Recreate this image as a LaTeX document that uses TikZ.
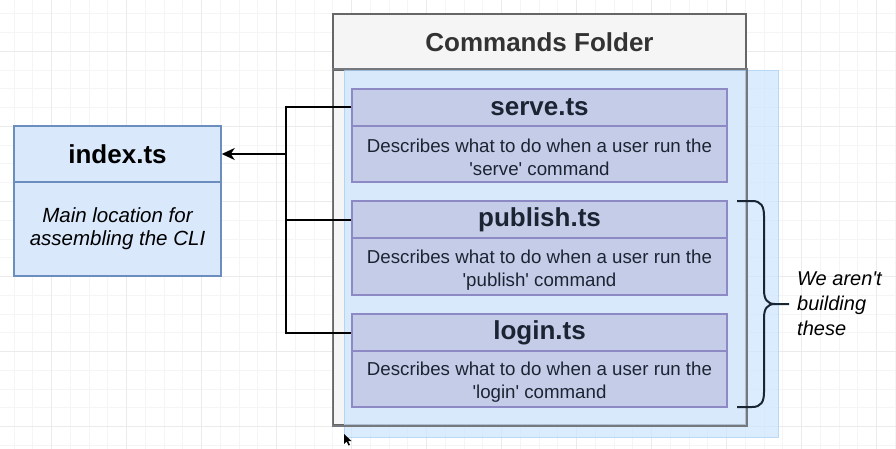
\documentclass[tikz,border=0pt]{standalone}
\usepackage{fontspec}
\setmainfont{Liberation Sans}
\usetikzlibrary{arrows.meta}
\definecolor{idxfill}{HTML}{DAE8FC}
\definecolor{idxdraw}{HTML}{6C8EBF}
\definecolor{foldfill}{HTML}{F5F5F5}
\definecolor{folddraw}{HTML}{666666}
\definecolor{foldtext}{HTML}{333333}
\definecolor{ovfill}{HTML}{CCE5FF}
\definecolor{ovdraw}{HTML}{A8D0F5}
\definecolor{cmdfill}{HTML}{C5CCE8}
\definecolor{cmddraw}{HTML}{8C89C4}
\definecolor{cmdtext}{HTML}{1A2533}
\definecolor{gridminor}{HTML}{F5F5F5}
\definecolor{gridmajor}{HTML}{EBEBEB}
\begin{document}
\begin{tikzpicture}[x=1pt,y=-1pt,
  title/.style={font=\fontsize{26}{31}\selectfont\bfseries},
  desc/.style={font=\fontsize{18.7}{23}\selectfont, align=center, text=cmdtext, inner sep=0pt},
  descit/.style={font=\fontsize{20.5}{23}\selectfont\itshape, align=center},
  idxbox/.style={draw=idxdraw, fill=idxfill, line width=1.5pt, minimum width=207pt, inner sep=0pt},
  foldbox/.style={draw=folddraw, fill=foldfill, line width=1.5pt, minimum width=413pt, inner sep=0pt},
  cmdbox/.style={draw=cmddraw, fill=cmdfill, line width=1.5pt, minimum width=375pt, inner sep=0pt, text=cmdtext},
  wire/.style={draw=black, line width=2pt},
  bracestyle/.style={draw=cmdtext, line width=2pt},
]
\useasboundingbox (0,0) rectangle (896,449);
\fill[white] (0,0) rectangle (896,449);
% grid
\foreach \k in {0,...,47} {\draw[gridminor, line width=1pt] ({14+\k*18.75},0) -- ({14+\k*18.75},449);}
\foreach \k in {0,...,23} {\draw[gridminor, line width=1pt] (0,{14+\k*18.75}) -- (896,{14+\k*18.75});}
\foreach \k in {0,...,11} {\draw[gridmajor, line width=1pt] ({51.5+\k*75},0) -- ({51.5+\k*75},449);}
\foreach \k in {0,...,5} {\draw[gridmajor, line width=1pt] (0,{51.5+\k*75}) -- (896,{51.5+\k*75});}

% index.ts
\node[idxbox, minimum height=56pt, title] (ih) at (117.5,154) {\raisebox{-2pt}{index.ts}};
\node[idxbox, minimum height=94pt, descit] (ib) at (117.5,229) {Main location for\\assembling the CLI};

% Commands folder
\node[foldbox, minimum height=56pt, title, text=foldtext] (fh) at (539.5,42) {Commands Folder};
\node[foldbox, minimum height=355pt] (fb) at (539.5,247.5) {};
\path[fill=ovfill, fill opacity=0.7, draw=ovdraw, draw opacity=0.8, line width=1pt] (344,71) rectangle (778,437);
\draw[draw=folddraw!85!ovfill, line width=1.5pt] (fb.north west) rectangle (fb.south east);

% command files
\node[cmdbox, minimum height=37pt, title] (sh) at (539.5,107.5) {serve.ts};
\node[cmdbox, minimum height=56pt] (sb) at (539.5,154) {};
\node[desc] (sbt) at ([yshift=-3.5pt]sb.center) {Describes what to do when a user run the\\\textquotesingle serve\textquotesingle\ command};
\node[cmdbox, minimum height=37pt, title] (ph) at (539.5,219.5) {publish.ts};
\node[cmdbox, minimum height=57pt] (pb) at (539.5,266.5) {};
\node[desc] (pbt) at ([yshift=-3.5pt]pb.center) {Describes what to do when a user run the\\\textquotesingle publish\textquotesingle\ command};
\node[cmdbox, minimum height=37pt, title] (lh) at (539.5,332.5) {login.ts};
\node[cmdbox, minimum height=56pt] (lb) at (539.5,379) {};
\node[desc] (lbt) at ([yshift=-3.5pt]lb.center) {Describes what to do when a user run the\\\textquotesingle login\textquotesingle\ command};

% connectors
\coordinate (bus) at (286,154);
\draw[wire] (sh.west) -| (bus |- lh.west) -- (lh.west);
\draw[wire] (ph.west) -- (bus |- ph.west);
\draw[wire, -{Stealth[length=13pt,width=12pt,inset=4pt]}] (bus) -- (ih.east);

% brace
\draw[bracestyle] (737,201) -- (752,201) .. controls (761,201) and (764,206) .. (764,216) -- (764,290) .. controls (764,299) and (767,304) .. (775,304) -- (789,304);
\draw[bracestyle] (775,304) .. controls (767,304) and (764,309) .. (764,318) -- (764,392) .. controls (764,402) and (761,407) .. (752,407) -- (737,407);
\node[font=\fontsize{20}{25}\selectfont\itshape, align=left, anchor=west, inner sep=0pt] (note) at (797,304) {We aren\textquotesingle t\\building\\these};

% cursor
\fill[black] (344,434) -- (344,444) -- (346.5,441.5) -- (348.5,445.5) -- (350,444.8) -- (348,441) -- (351.5,441) -- cycle;
\end{tikzpicture}
\end{document}
